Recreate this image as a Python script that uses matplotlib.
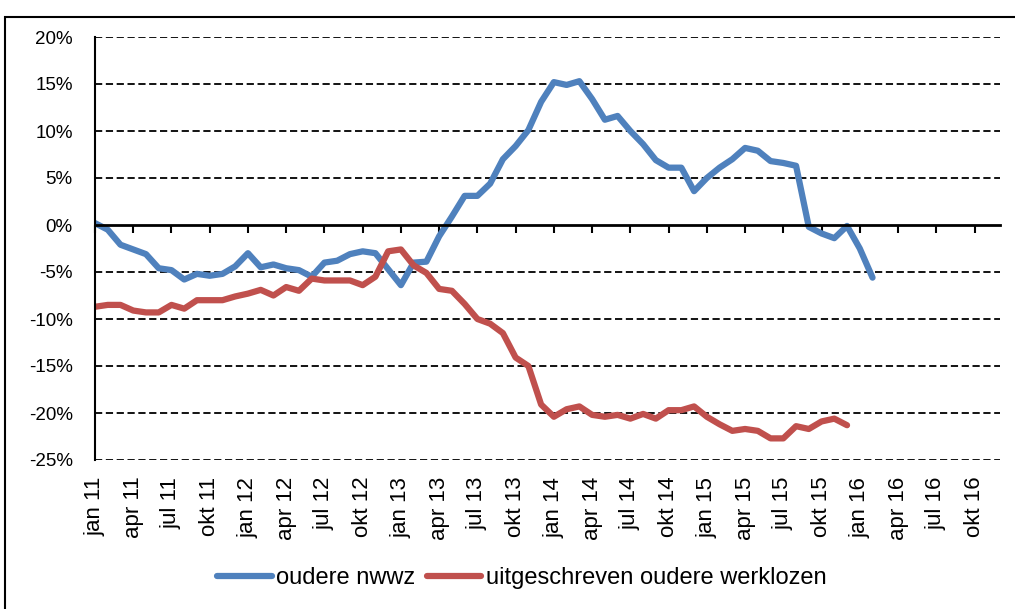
import matplotlib
matplotlib.use("Agg")
import matplotlib.pyplot as plt
import matplotlib.patches as patches
import numpy as np

# months jan 11 .. dec 16 (category axis)
years = ["11", "12", "13", "14", "15", "16"]
month_names = ["jan", "feb", "mrt", "apr", "mei", "jun",
               "jul", "aug", "sep", "okt", "nov", "dec"]
months = [m + " " + y for y in years for m in month_names]

# year-on-year change, % (jan 11 .. feb 16)
oudere_nwwz = [0.2, -0.5, -2.1, -2.6, -3.1, -4.6, -4.8, -5.8, -5.2, -5.4,
               -5.2, -4.4, -3.0, -4.5, -4.2, -4.6, -4.8, -5.5, -4.0, -3.8,
               -3.1, -2.8, -3.0, -4.7, -6.4, -4.0, -3.9, -1.2, 0.9, 3.1,
               3.1, 4.4, 7.0, 8.4, 10.1, 13.1, 15.2, 14.9, 15.3, 13.4,
               11.2, 11.6, 10.0, 8.6, 6.9, 6.1, 6.1, 3.6, 5.0, 6.1,
               7.0, 8.2, 7.9, 6.8, 6.6, 6.3, -0.2, -0.9, -1.4, -0.1,
               -2.5, -5.6]

# (jan 11 .. dec 15)
uitgeschreven = [-8.7, -8.5, -8.5, -9.1, -9.3, -9.3, -8.5, -8.9, -8.0, -8.0,
                 -8.0, -7.6, -7.3, -6.9, -7.5, -6.6, -7.0, -5.7, -5.9, -5.9,
                 -5.9, -6.4, -5.5, -2.8, -2.6, -4.3, -5.1, -6.8, -7.0, -8.4,
                 -10.0, -10.5, -11.5, -14.1, -15.0, -19.1, -20.4, -19.6, -19.3, -20.2,
                 -20.4, -20.2, -20.6, -20.1, -20.6, -19.7, -19.7, -19.3, -20.4, -21.2,
                 -21.9, -21.7, -21.9, -22.7, -22.7, -21.4, -21.7, -20.9, -20.6, -21.3]

labels = ["oudere nwwz", "uitgeschreven oudere werklozen"]
colors = ["#4F81BD", "#C0504D"]

plt.rcParams['font.family'] = ["Liberation Sans", "DejaVu Sans"]

fig = plt.figure(figsize=(10.15, 6.09), dpi=100)
ax = fig.add_axes([95/1015, 149/609, 905/1015, 423/609])

x = np.arange(len(months))
ax.plot(x[:len(oudere_nwwz)], oudere_nwwz, color=colors[0], lw=4.5,
        label=labels[0], solid_capstyle='round', solid_joinstyle='round')
ax.plot(x[:len(uitgeschreven)], uitgeschreven, color=colors[1], lw=4.5,
        label=labels[1], solid_capstyle='round', solid_joinstyle='round')

ax.set_xlim(0, len(months) - 1)
ax.set_ylim(-25, 20)
yt = np.arange(-25, 21, 5)
ax.set_yticks(yt)
ax.set_yticklabels([f"{v}%" for v in yt], fontsize=13.5)
ax.tick_params(axis='y', length=0, pad=16)
for v in yt:
    if v != 0:
        ax.axhline(v, color='black', lw=1.3, ls=(0, (4, 2)), zorder=0)

# x axis line at zero with tick marks
for s in ['top', 'right']:
    ax.spines[s].set_visible(False)
ax.spines['left'].set_linewidth(1.5)
ax.spines['bottom'].set_position(('data', 0))
ax.spines['bottom'].set_linewidth(2)
qt = x[::3]
ax.set_xticks(qt)
ax.set_xticklabels([])
ax.tick_params(axis='x', direction='out', length=6, width=1.5)

# category labels at the bottom
ax2 = ax.twiny()
ax2.set_xlim(ax.get_xlim())
for s in ax2.spines.values():
    s.set_visible(False)
ax2.xaxis.set_ticks_position('bottom')
ax2.xaxis.set_label_position('bottom')
ax2.set_xticks(qt)
ax2.set_xticklabels([months[i] for i in qt], rotation=90, fontsize=16)
ax2.tick_params(axis='x', length=0, pad=12)

leg = ax.legend(loc='center', bbox_to_anchor=(522/1015, 1 - 578/609),
                bbox_transform=fig.transFigure, ncol=2, frameon=False,
                fontsize=17, handlelength=2.3, handletextpad=0.2,
                columnspacing=0.5)

fig.patches.append(patches.Rectangle((5/1015, -0.05), 1.1, 1.05 - 17/609,
                                     transform=fig.transFigure, fill=False,
                                     edgecolor='black', lw=1.5))

fig.savefig("out.png", dpi=100)
